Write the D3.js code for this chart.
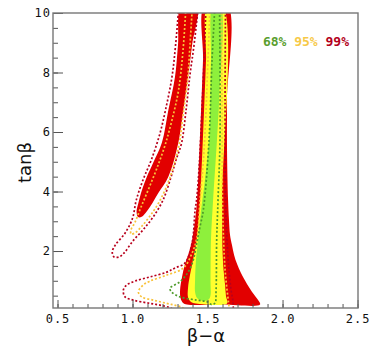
<!DOCTYPE html>
<html>
<head>
<meta charset="utf-8">
<script src="https://cdn.jsdelivr.net/npm/d3@7"></script>
<style>
body { margin: 0; background: #fff; }
</style>
</head>
<body>
<div id="chart-area"></div>
<script>
// DATA
// =================
var xTicks = [0.5, 1.0, 1.5, 2.0, 2.5];
var yTicks = [2, 4, 6, 8, 10];
var levels = ['68%', '95%', '99%'];
var levelColors = ['#5a9e2e', '#f7c948', '#b3001b'];

// filled regions, points are [beta-alpha, tan beta]
var red99Band = [[1.483,10.3],[1.47,8.42],[1.457,6.74],[1.443,5.06],[1.43,3.71],[1.417,3.04],[1.397,2.37],[1.377,1.97],[1.35,1.56],[1.33,1.13],[1.317,0.69],[1.32,0.42],[1.337,0.25],[1.363,0.2],[1.6,0.2],[1.85,0.2],[1.837,0.35],[1.797,0.62],[1.763,0.89],[1.723,1.26],[1.697,1.56],[1.677,1.87],[1.663,2.2],[1.65,2.54],[1.643,3.04],[1.637,3.71],[1.63,5.39],[1.63,7.08],[1.63,10.3]];
var red99Arm = [[1.327,10.3],[1.303,8.92],[1.283,7.85],[1.239,6.74],[1.195,5.63],[1.137,4.96],[1.095,4.49],[1.063,4.05],[1.039,3.61],[1.027,3.31],[1.037,3.14],[1.061,3.15],[1.117,3.49],[1.172,3.95],[1.239,4.5],[1.305,5.63],[1.339,6.74],[1.37,7.85],[1.397,8.92],[1.43,10.3]];
var yellow95Band = [[1.503,10.3],[1.49,8.42],[1.477,6.74],[1.463,5.06],[1.45,3.71],[1.437,2.87],[1.423,2.2],[1.403,1.7],[1.383,1.19],[1.37,0.76],[1.37,0.45],[1.39,0.29],[1.423,0.24],[1.63,0.24],[1.623,0.49],[1.617,0.86],[1.607,1.36],[1.6,2.03],[1.597,3.71],[1.597,10.3]];
var green68Band = [[1.537,10.3],[1.523,8.42],[1.517,6.74],[1.51,5.73],[1.483,4.39],[1.457,3.38],[1.437,2.37],[1.423,1.7],[1.417,1.03],[1.417,0.62],[1.43,0.42],[1.457,0.34],[1.497,0.34],[1.517,0.45],[1.52,1.03],[1.523,2.37],[1.537,3.71],[1.563,5.73],[1.577,7.08],[1.583,10.3]];

// dotted contours
var red99DotArm = [[1.31,10.3],[1.287,8.92],[1.263,7.85],[1.22,6.74],[1.18,5.9],[1.125,5.06],[1.07,4.39],[1.025,3.71],[1.0,3.1],[0.95,2.6],[0.885,2.2],[0.865,1.97],[0.877,1.8],[0.91,1.8],[0.943,1.93],[1.003,2.34],[1.07,2.71],[1.137,3.14],[1.203,3.71],[1.257,4.49],[1.29,5.06],[1.327,5.63],[1.357,6.74],[1.383,7.92],[1.41,8.92],[1.44,10.3]];
var yellow95DotArm = [[1.357,10.3],[1.337,8.76],[1.307,7.41],[1.263,6.4],[1.217,5.56],[1.163,4.79],[1.11,4.12],[1.057,3.48],[1.017,2.97],[0.99,2.71],[0.99,2.57],[1.017,2.61],[1.063,2.84],[1.117,3.18],[1.17,3.58],[1.223,4.12],[1.27,4.79],[1.31,5.56],[1.337,6.57],[1.367,7.75],[1.383,8.92],[1.4,10.3]];
var red99DotBand = [[1.49,10.3],[1.477,8.42],[1.463,6.74],[1.447,5.06],[1.427,3.71],[1.417,3.38],[1.397,2.27],[1.35,1.6],[1.283,1.43],[1.228,1.29],[1.117,1.13],[1.017,0.99],[0.961,0.86],[0.939,0.69],[0.95,0.46],[1.005,0.35],[1.117,0.24],[1.228,0.13],[1.35,-0.1],[1.66,-0.1],[1.67,0.25],[1.657,0.69],[1.643,1.36],[1.63,2.37],[1.62,3.71],[1.617,7.08],[1.62,10.3]];
var yellow95DotBand = [[1.517,10.3],[1.503,8.42],[1.49,6.74],[1.473,5.06],[1.45,3.71],[1.43,2.47],[1.397,1.93],[1.339,1.43],[1.228,1.19],[1.117,0.99],[1.072,0.86],[1.039,0.63],[1.061,0.46],[1.139,0.35],[1.228,0.24],[1.317,0.13],[1.42,-0.1],[1.643,-0.1],[1.64,0.25],[1.63,0.69],[1.617,1.36],[1.607,2.37],[1.6,3.71],[1.597,7.08],[1.593,10.3]];
var green68DotBand = [[1.55,10.3],[1.53,8.42],[1.51,5.73],[1.472,3.38],[1.45,2.82],[1.428,2.26],[1.405,1.7],[1.372,1.3],[1.317,0.97],[1.25,0.75],[1.261,0.62],[1.317,0.46],[1.428,0.35],[1.495,0.3],[1.528,0.2],[1.55,0.25],[1.557,0.69],[1.561,2.37],[1.57,3.71],[1.583,5.73],[1.58,10.3]];

// CANVAS + MARGINS
// =================
var margin = { left: 53, right: 33, top: 13, bottom: 39 };
var width = 391 - margin.left - margin.right;
var height = 347 - margin.top - margin.bottom;

var svg = d3.select('#chart-area')
    .append('svg')
        .attr('width', 391)
        .attr('height', 347);

var g = svg.append('g')
    .attr('transform', 'translate(' + margin.left + ',' + margin.top + ')');

var x = d3.scaleLinear().domain([0.47, 2.503]).range([0, width]);
var y = d3.scaleLinear().domain([0.085, 10]).range([height, 0]);

g.append('clipPath')
    .attr('id', 'plot-clip')
    .append('rect')
        .attr('width', width)
        .attr('height', height);

var plot = g.append('g').attr('clip-path', 'url(#plot-clip)');

var area = d3.line()
    .x(d => x(d[0]))
    .y(d => y(d[1]))
    .curve(d3.curveCatmullRomClosed.alpha(0.5));

var contour = d3.line()
    .x(d => x(d[0]))
    .y(d => y(d[1]))
    .curve(d3.curveCatmullRom.alpha(0.5));

// FILLS
[red99Band, red99Arm].forEach(p => {
    plot.append('path').attr('d', area(p)).attr('fill', '#e20000');
});
plot.append('path').attr('d', area(yellow95Band)).attr('fill', '#ffff2e');
plot.append('path').attr('d', area(green68Band)).attr('fill', '#8ef03c');

// DOTTED CONTOURS
var dotted = [
    [red99DotArm, '#b8001c'],
    [red99DotBand, '#b8001c'],
    [yellow95DotArm, '#f8c23a'],
    [yellow95DotBand, '#f8c23a'],
    [green68DotBand, '#4e9a2a']
];
dotted.forEach(d => {
    plot.append('path')
        .attr('d', contour(d[0]))
        .attr('fill', 'none')
        .attr('stroke', d[1])
        .attr('stroke-width', 1.7)
        .attr('stroke-dasharray', '2,2');
});

// AXES
// =================
var tickFont = function(sel) {
    sel.selectAll('text')
        .attr('font-family', '"DejaVu Sans Mono", monospace')
        .attr('font-size', '12px')
        .attr('letter-spacing', '1px')
        .attr('fill', '#111');
    sel.selectAll('line').attr('stroke', '#555');
    sel.select('.domain').remove();
};

g.append('g')
    .attr('transform', 'translate(0,' + height + ')')
    .call(d3.axisBottom(x).tickValues(d3.range(0.5, 2.51, 0.1)).tickSize(-4).tickFormat(''))
    .call(tickFont);
g.append('g')
    .attr('transform', 'translate(0,' + height + ')')
    .call(d3.axisBottom(x).tickValues(xTicks).tickSize(-8).tickPadding(6).tickFormat(d3.format('.1f')))
    .call(tickFont);

g.append('g')
    .call(d3.axisLeft(y).tickValues(d3.range(0.5, 10.01, 0.5)).tickSize(-5).tickFormat(''))
    .call(tickFont);
g.append('g')
    .call(d3.axisLeft(y).tickValues(yTicks).tickSize(-10).tickPadding(2))
    .call(tickFont);

// FRAME
g.append('rect')
    .attr('width', width)
    .attr('height', height)
    .attr('fill', 'none')
    .attr('stroke', '#777')
    .attr('stroke-width', 1.4);

// LABELS
// =================
g.append('text')
    .attr('x', width / 2 + 0.5)
    .attr('y', height + 34)
    .attr('font-family', '"DejaVu Sans", sans-serif')
    .attr('font-size', '18px')
    .attr('text-anchor', 'middle')
    .attr('fill', '#111')
    .text('β−α');

g.append('text')
    .attr('transform', 'translate(-22,' + (height / 2 + 2) + ') rotate(-90)')
    .attr('font-family', '"DejaVu Sans", sans-serif')
    .attr('font-size', '18px')
    .attr('text-anchor', 'middle')
    .attr('fill', '#111')
    .text('tanβ');

// LEGEND
var legend = g.append('text')
    .attr('x', width - 9)
    .attr('y', 33)
    .attr('text-anchor', 'end')
    .attr('font-family', '"DejaVu Sans Mono", monospace')
    .attr('font-size', '13px')
    .attr('font-weight', 'bold');
levels.forEach((t, i) => {
    legend.append('tspan')
        .attr('fill', levelColors[i])
        .text((i > 0 ? ' ' : '') + t);
});
</script>
</body>
</html>
